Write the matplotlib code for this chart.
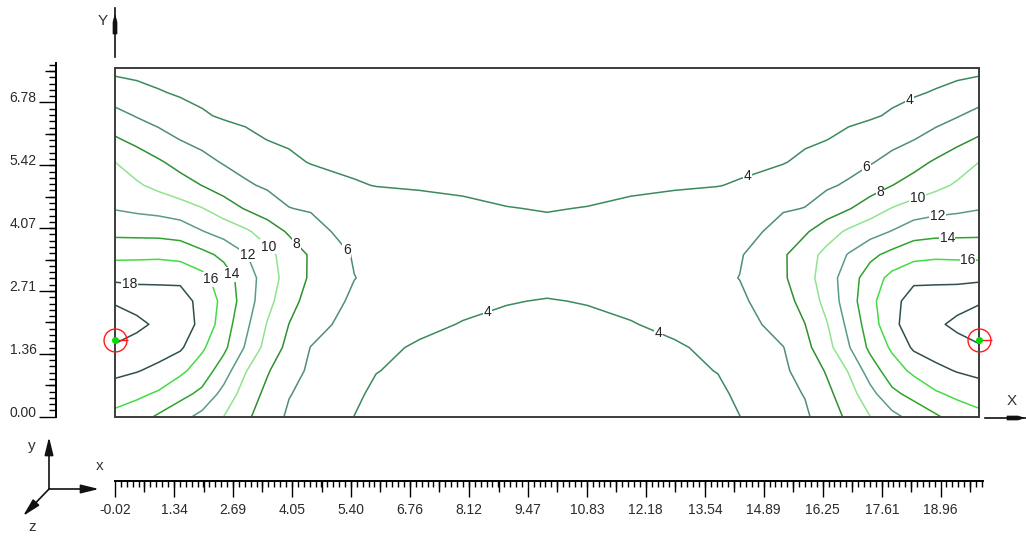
import numpy as np
import matplotlib
matplotlib.use("Agg")
import matplotlib.pyplot as plt
from matplotlib.ticker import FixedLocator
from matplotlib.patches import Polygon

plt.rcParams['font.family'] = ['Liberation Sans', 'DejaVu Sans']

# ---------------- data ----------------
LEVELS = [4, 6, 8, 10, 12, 14, 16, 18, 20]
LEVEL_COLORS = ['#3b8a5e', '#4f8c7f', '#2f8f2f', '#8fe48f', '#5a9a8b',
                '#2ea42e', '#45db45', '#2f4f4f', '#2f4f4f']

# grid nodes of the left half (field is mirror-symmetric about the centre)
X_LEFT = [0, 0.5, 1, 1.5, 2, 2.5, 3, 3.5, 4, 4.5, 5, 5.5, 6, 7, 8, 9, 9.93]
Y_ROWS = [0, 0.5, 1, 1.5, 2, 2.5, 3, 3.5, 4, 4.5, 5, 5.5, 6, 6.5, 7, 7.53]
Z_LEFT = [
    [15.4, 14.8, 13.7, 12.65, 11.4, 9.97, 8.38, 6.97, 5.7, 5.15, 4.55, 3.98, 3.5, 3.2, 2.9, 2.75, 2.7],
    [17.0, 16.43, 15.74, 14.6, 13.55, 11.35, 9.12, 7.51, 6.09, 5.45, 4.87, 4.28, 3.7, 3.3, 3.0, 2.85, 2.8],
    [18.5, 18.12, 17.5, 16.42, 15.09, 12.98, 10.12, 8.19, 6.68, 5.71, 5.18, 4.6, 4.05, 3.6, 3.45, 3.25, 3.15],
    [19.8, 19.13, 18.9, 18.3, 16.3, 14.45, 11.82, 9.25, 7.45, 5.95, 5.5, 5.05, 4.59, 3.7, 3.55, 3.45, 3.4],
    [21.0, 20.5, 19.6, 19.0, 17.5, 15.0, 12.49, 9.88, 7.98, 6.97, 5.99, 5.62, 5.28, 4.57, 3.88, 3.78, 3.72],
    [19.8, 19.2, 19.1, 18.8, 17.4, 15.45, 13.03, 10.65, 8.6, 7.33, 6.38, 5.72, 5.63, 5.1, 4.6, 4.05, 3.95],
    [17.6, 17.54, 17.53, 17.6, 16.6, 14.95, 13.05, 10.98, 9.19, 7.73, 6.88, 6.03, 5.7, 5.25, 4.85, 4.5, 4.35],
    [15.5, 15.56, 15.63, 15.35, 14.58, 13.55, 12.13, 10.59, 9.11, 7.77, 6.72, 5.85, 5.6, 5.15, 4.8, 4.6, 4.5],
    [13.5, 13.43, 13.36, 13.14, 12.1, 11.23, 10.34, 9.09, 7.75, 6.78, 5.95, 5.72, 5.5, 5.1, 4.75, 4.5, 4.4],
    [11.9, 11.6, 11.35, 10.85, 10.08, 8.97, 7.86, 6.98, 6.04, 5.83, 5.64, 5.45, 5.26, 4.88, 4.45, 4.05, 3.92],
    [10.95, 10.24, 9.5, 8.73, 7.97, 7.1, 6.24, 5.74, 5.38, 5.01, 4.65, 4.2, 3.93, 3.75, 3.6, 3.5, 3.45],
    [10.0, 9.12, 8.23, 7.39, 6.57, 5.85, 5.37, 4.88, 4.39, 3.9, 3.55, 3.47, 3.4, 3.3, 3.22, 3.18, 3.15],
    [8.2, 7.42, 6.66, 5.93, 5.43, 4.93, 4.43, 3.95, 3.7, 3.5, 3.38, 3.29, 3.2, 3.05, 2.95, 2.9, 2.85],
    [6.6, 5.89, 5.32, 4.76, 4.19, 3.8, 3.6, 3.45, 3.32, 3.22, 3.12, 3.05, 2.98, 2.85, 2.75, 2.7, 2.68],
    [5.0, 4.57, 4.13, 3.8, 3.6, 3.45, 3.33, 3.22, 3.12, 3.05, 2.98, 2.92, 2.85, 2.72, 2.62, 2.57, 2.55],
    [3.5, 3.4, 3.28, 3.17, 3.08, 2.99, 2.9, 2.83, 2.76, 2.7, 2.65, 2.6, 2.56, 2.46, 2.38, 2.33, 2.31],
]
X_MAX = 19.86
Y_MAX = 7.53

SOURCE_X = [0.0, 19.86]
SOURCE_Y = [1.66, 1.66]

X_TICK_LABELS = ["-0.02", "1.34", "2.69", "4.05", "5.40", "6.76", "8.12", "9.47",
                 "10.83", "12.18", "13.54", "14.89", "16.25", "17.61", "18.96"]
Y_TICK_LABELS = ["0.00", "1.36", "2.71", "4.07", "5.42", "6.78"]
X_RULER_RANGE = (-0.02, 19.935)
Y_RULER_RANGE = (0.0, 7.625)

LABEL_POSITIONS = [
    (0.34, 2.91), (2.30, 3.0), (2.76, 3.13), (3.10, 3.56), (3.56, 3.71),
    (4.21, 3.78), (5.33, 3.6),
    (8.55, 2.31), (12.48, 1.81), (14.55, 5.16),
    (18.28, 6.80), (17.31, 5.33), (17.59, 4.85), (18.44, 4.75), (18.9, 4.36),
    (19.13, 3.88), (19.61, 3.34),
]

# ---------------- figure ----------------
W, H = 1026, 536
fig = plt.figure(figsize=(W / 100, H / 100), dpi=100)
fig.patch.set_facecolor('white')


def px_axes(left, top, right, bottom, **kw):
    return fig.add_axes([left / W, 1 - bottom / H, (right - left) / W, (bottom - top) / H], **kw)


# main contour box
ax = px_axes(115, 68, 979, 417)
xs = np.array(X_LEFT + [X_MAX - v for v in X_LEFT[-2::-1]])
ys = np.array(Y_ROWS)
zl = np.array(Z_LEFT)
zs = np.hstack([zl, zl[:, -2::-1]])
cs = ax.contour(xs, ys, zs, levels=LEVELS, colors=LEVEL_COLORS, linewidths=1.1)
texts = ax.clabel(cs, fmt='%d', fontsize=10, inline=False, manual=LABEL_POSITIONS,
                  colors='#222222')
for t in texts:
    t.set_rotation(0)
    t.set_bbox(dict(fc='white', ec='none', pad=0.4))

ax.plot(SOURCE_X, SOURCE_Y, ls='none', marker='o', ms=16.5, mfc='none', mec='#ff1a1a',
        mew=1.0, clip_on=False, zorder=6)
ax.plot(SOURCE_X, SOURCE_Y, ls='none', marker=1, ms=9, mec='#ff1a1a', mew=1.0,
        clip_on=False, zorder=6)
ax.plot(SOURCE_X, SOURCE_Y, ls='none', marker='o', ms=4, mfc='#00e000', mec='#00e000',
        clip_on=False, zorder=7)

ax.set_xlim(0, X_MAX)
ax.set_ylim(0, Y_MAX)
ax.set_xticks([])
ax.set_yticks([])
for s in ax.spines.values():
    s.set_color('#3c3c3c')
    s.set_linewidth(1.4)

# ---------------- rulers ----------------
x_major = [float(v) for v in X_TICK_LABELS]
x_step = (x_major[-1] - x_major[0]) / (len(x_major) - 1)
x_medium = [v + x_step / 2 for v in x_major]
x_minor = [x_major[0] + k * x_step / 10 for k in range(int((X_RULER_RANGE[1] - x_major[0]) / (x_step / 10)) + 1)]

y_major = [float(v) for v in Y_TICK_LABELS]
y_step = (y_major[-1] - y_major[0]) / (len(y_major) - 1)
y_medium = [v + y_step / 2 for v in y_major]
y_minor = [k * y_step / 10 for k in range(int(Y_RULER_RANGE[1] / (y_step / 10)) + 1)]

PT = 0.72  # points per pixel


def bare(a, keep):
    a.patch.set_visible(False)
    for name, s in a.spines.items():
        s.set_visible(name == keep)
        s.set_color('black')
        s.set_linewidth(1.4)


# x ruler
xr = px_axes(115, 480.5, 983, 481)
bare(xr, 'bottom')
xr.set_xlim(*X_RULER_RANGE)
xr.set_yticks([])
xr.set_xticks(x_major, labels=X_TICK_LABELS)
xr.xaxis.set_minor_locator(FixedLocator(x_minor))
xr.tick_params(axis='x', which='major', direction='out', length=16 * PT, width=1.0,
               pad=4, labelsize=10, color='black', labelcolor='#2a2a2a')
xr.tick_params(axis='x', which='minor', direction='out', length=6 * PT, width=1.0, color='black')

xm = px_axes(115, 480.5, 983, 481)
bare(xm, 'none')
xm.set_xlim(*X_RULER_RANGE)
xm.set_yticks([])
xm.set_xticks([v for v in x_medium if v <= X_RULER_RANGE[1]], labels=[])
xm.tick_params(axis='x', which='major', direction='out', length=11 * PT, width=1.0, color='black')

# y ruler
yr = px_axes(55.5, 63.3, 56, 416.7)
bare(yr, 'left')
yr.set_ylim(*Y_RULER_RANGE)
yr.set_xticks([])
yr.set_yticks(y_major, labels=Y_TICK_LABELS, va='baseline')
for lbl in yr.get_yticklabels():
    lbl.set_verticalalignment('baseline')
yr.yaxis.set_minor_locator(FixedLocator(y_minor))
yr.tick_params(axis='y', which='major', direction='out', length=17 * PT, width=1.0,
               pad=1.5, labelsize=10, color='black', labelcolor='#2a2a2a')
yr.tick_params(axis='y', which='minor', direction='out', length=7 * PT, width=1.0, color='black')

ym = px_axes(55.5, 63.3, 56, 416.7)
bare(ym, 'none')
ym.set_ylim(*Y_RULER_RANGE)
ym.set_xticks([])
ym.set_yticks([v for v in y_medium if v <= Y_RULER_RANGE[1]], labels=[])
ym.tick_params(axis='y', which='major', direction='out', length=11 * PT, width=1.0, color='black')

# ---------------- axis arrows and triad (pixel overlay) ----------------
deco = fig.add_axes([0, 0, 1, 1], zorder=10)
deco.set_xlim(0, W)
deco.set_ylim(H, 0)
deco.axis('off')

ink = '#111111'
# Y arrow above the box
deco.plot([115, 115], [57, 8], color=ink, lw=1.2)
deco.add_patch(Polygon([(113, 34), (117, 34), (117, 22), (115, 15), (113, 22)], closed=True,
                       fc=ink, ec=ink, lw=0.5))
deco.text(103, 21, 'Y', fontsize=11, color='#333333', ha='center', va='center')
# X arrow right of the box
deco.plot([985, 1026], [418, 418], color=ink, lw=1.2)
deco.add_patch(Polygon([(1007, 416), (1007, 420), (1018, 420), (1024, 418), (1018, 416)],
                       closed=True, fc=ink, ec=ink, lw=0.5))
deco.text(1012, 401, 'X', fontsize=11, color='#333333', ha='center', va='center')

# triad
arrow_kw = dict(arrowstyle='-|>,head_length=0.9,head_width=0.22', color=ink, lw=1.2,
                mutation_scale=12, shrinkA=0, shrinkB=0)
deco.annotate('', xy=(49, 437), xytext=(49, 489), arrowprops=arrow_kw)
deco.annotate('', xy=(99, 489), xytext=(49, 489), arrowprops=arrow_kw)
deco.annotate('', xy=(23, 516), xytext=(49, 489), arrowprops=arrow_kw)
deco.text(32, 446, 'y', fontsize=11, color='#333333', ha='center', va='center')
deco.text(100, 466, 'x', fontsize=11, color='#333333', ha='center', va='center')
deco.text(32, 527, 'z', fontsize=11, color='#333333', ha='center', va='center')

fig.savefig('out.png', dpi=100, facecolor='white')
